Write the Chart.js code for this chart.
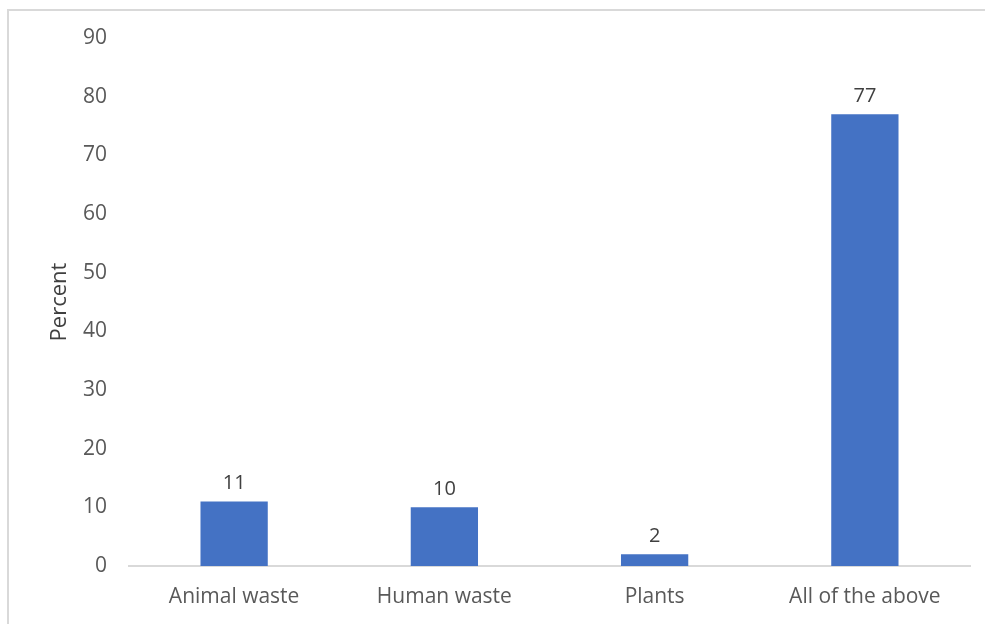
<!DOCTYPE html>
<html>
<head>
<meta charset="utf-8">
<script src="https://cdn.jsdelivr.net/npm/chart.js@4.4.0/dist/chart.umd.min.js"></script>
<style>
    html, body { margin: 0; padding: 0; background: #ffffff; }
    #wrap { position: relative; width: 985px; height: 624px; overflow: hidden; }
    #frame {
        position: absolute; left: 7px; top: 9px; width: 1000px; height: 700px;
        border: 2px solid #d9d9d9; box-sizing: border-box;
    }
    #chart { position: absolute; left: 0; top: 0; }
</style>
</head>
<body>
<div id="wrap">
    <div id="frame"></div>
    <canvas id="chart" width="985" height="624"></canvas>
</div>
<script>
// Chart data
const categories = ['Animal waste', 'Human waste', 'Plants', 'All of the above'];
const percentValues = [11, 10, 2, 77];
const yTicks = [0, 10, 20, 30, 40, 50, 60, 70, 80, 90];

const textColor = '#595959';
const fontFamily = "'Open Sans', 'Noto Sans', sans-serif";

/**
 * Draw the value above each bar
 */
const barValueLabels = {
    id: 'barValueLabels',
    afterDatasetsDraw(chart) {
        const ctx = chart.ctx;
        const meta = chart.getDatasetMeta(0);
        ctx.save();
        ctx.fillStyle = '#404040';
        ctx.font = '20px ' + fontFamily;
        ctx.textAlign = 'center';
        ctx.textBaseline = 'bottom';
        meta.data.forEach(function(bar, i) {
            ctx.fillText(String(percentValues[i]), bar.x, bar.y - 8);
        });
        ctx.restore();
    }
};

document.addEventListener('DOMContentLoaded', function() {
    const chartEl = document.getElementById('chart');
    new Chart(chartEl, {
        type: 'bar',
        data: {
            labels: categories,
            datasets: [{
                label: 'Percent',
                data: percentValues,
                backgroundColor: '#4472C4',
                borderWidth: 0,
                categoryPercentage: 1,
                barPercentage: 0.32
            }]
        },
        options: {
            responsive: false,
            animation: false,
            layout: {
                padding: { left: 43, right: 15, top: 38, bottom: 0 }
            },
            plugins: {
                legend: { display: false },
                tooltip: { enabled: false }
            },
            scales: {
                y: {
                    min: 0,
                    max: 90,
                    afterFit: function(scale) { scale.width = 86; },
                    afterBuildTicks: function(scale) {
                        scale.ticks = yTicks.map(function(v) { return { value: v }; });
                    },
                    grid: { display: false, drawTicks: false },
                    border: { display: false },
                    ticks: {
                        color: textColor,
                        padding: 22,
                        font: { family: fontFamily, size: 21 }
                    },
                    title: {
                        display: true,
                        text: 'Percent',
                        color: '#404040',
                        padding: { top: 4, bottom: 4 },
                        font: { family: fontFamily, size: 22 }
                    }
                },
                x: {
                    afterFit: function(scale) { scale.height = 58; },
                    grid: { display: false, drawTicks: false },
                    border: { display: true, color: '#d9d9d9', width: 2 },
                    ticks: {
                        color: textColor,
                        padding: 18,
                        font: { family: fontFamily, size: 21 }
                    }
                }
            }
        },
        plugins: [barValueLabels]
    });
});
</script>
</body>
</html>
